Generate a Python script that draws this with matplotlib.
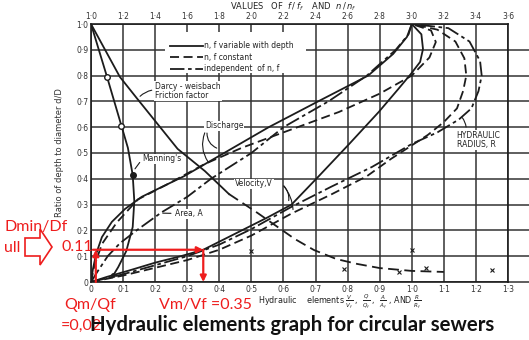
import numpy as np
import matplotlib.pyplot as plt
from matplotlib.patches import Rectangle, Polygon

# bottom scale: hydraulic element ratios, vertical: d/D
q_var_x = [0, 0.006, 0.016, 0.034, 0.065, 0.106, 0.158, 0.22, 0.29, 0.415, 0.554, 0.708, 0.864, 0.942, 0.985, 1.0]
q_var_d = [0, 0.05, 0.109, 0.174, 0.233, 0.283, 0.33, 0.368, 0.41, 0.5, 0.6, 0.7, 0.8, 0.884, 0.95, 1.0]

q_const_x = [0, 0.01, 0.034, 0.08, 0.146, 0.24, 0.354, 0.47, 0.587, 0.773, 0.9, 1.0, 1.055, 1.075, 1.06, 1.0]
q_const_d = [0, 0.06, 0.147, 0.23, 0.32, 0.38, 0.457, 0.52, 0.574, 0.659, 0.73, 0.8, 0.87, 0.93, 0.975, 1.0]

area_x = [0, 0.02, 0.052, 0.09, 0.142, 0.22, 0.3, 0.374, 0.5, 0.6, 0.74, 0.86, 0.95, 0.99, 1.0]
area_d = [0, 0.04, 0.1, 0.15, 0.2, 0.27, 0.33, 0.4, 0.5, 0.6, 0.7, 0.8, 0.9, 0.96, 1.0]

v_var_x = [0, 0.05, 0.12, 0.2, 0.28, 0.35, 0.47, 0.55, 0.625, 0.71, 0.805, 0.897, 0.958, 0.997, 1.026, 1.035, 1.03, 1.0]
v_var_d = [0, 0.02, 0.045, 0.075, 0.1, 0.125, 0.2, 0.25, 0.30, 0.41, 0.535, 0.659, 0.748, 0.806, 0.853, 0.903, 0.96, 1.0]

r_x = [0, 0.1, 0.2, 0.3, 0.4, 0.5, 0.623, 0.75, 0.876, 1.0, 1.08, 1.147, 1.186, 1.208, 1.218, 1.213, 1.18, 1.114, 1.0]
r_d = [0, 0.03, 0.065, 0.1, 0.145, 0.205, 0.29, 0.37, 0.446, 0.535, 0.58, 0.63, 0.673, 0.74, 0.8, 0.856, 0.932, 0.984, 1.0]

v_const_x = [0, 0.1, 0.2, 0.3, 0.4, 0.5, 0.623, 0.75, 0.86, 0.935, 1.05, 1.1, 1.141, 1.16, 1.17, 1.164, 1.136, 1.08, 1.0]
v_const_d = [0, 0.025, 0.055, 0.085, 0.125, 0.18, 0.264, 0.34, 0.41, 0.477, 0.57, 0.62, 0.673, 0.74, 0.8, 0.867, 0.932, 0.978, 1.0]

# top scale: f/f_f and n/n_f
darcy_f = [1.0, 1.18, 1.29, 1.54, 1.71, 1.86]
darcy_d = [1.0, 0.795, 0.709, 0.516, 0.43, 0.341]
darcy_tail_f = [1.86, 2.04, 2.27, 2.39, 2.53, 2.66, 2.8, 3.0, 3.2]
darcy_tail_d = [0.341, 0.267, 0.167, 0.124, 0.089, 0.07, 0.054, 0.043, 0.039]

manning_n = [1.0, 1.10, 1.19, 1.23, 1.26, 1.27, 1.26, 1.22, 1.17, 1.14]
manning_d = [1.0, 0.795, 0.605, 0.52, 0.415, 0.314, 0.213, 0.12, 0.058, 0.027]
manning_open_n = [1.10, 1.19]
manning_open_d = [0.795, 0.605]

test_f = [2.0, 2.58, 2.92, 3.0, 3.09, 3.5]
test_d = [0.12, 0.05, 0.039, 0.124, 0.054, 0.047]

bottom_ticks = [round(0.1 * i, 1) for i in range(14)]
left_ticks = [round(0.1 * i, 1) for i in range(11)]
top_ticks = [round(1.0 + 0.2 * i, 1) for i in range(14)]

# red reading
red_d = 0.125
red_q = 0.015
red_v = 0.35

W, H = 529, 340
fig = plt.figure(figsize=(W / 100, H / 100), dpi=100)
ax = fig.add_axes([91 / W, 58 / H, 417 / W, 258 / H])
ax.set_xlim(0, 1.3)
ax.set_ylim(0, 1.0)
ax.set_axisbelow(True)

ink = '#1c1c1c'
red = '#ee1d1d'


def top2x(v):
    return (np.asarray(v) - 1.0) / 2.0


ax.set_xticks(bottom_ticks)
ax.set_xticklabels(['0'] + [f'{v:.1f}'.replace('.', '·') for v in bottom_ticks[1:]])
ax.set_yticks(left_ticks)
ax.set_yticklabels(['0'] + [f'{v:.1f}'.replace('.', '·') for v in left_ticks[1:]])
ax.tick_params(length=0, labelsize=5.5, pad=2, colors='#333333')
ax.grid(True, color='#333333', lw=1.1)
for s in ax.spines.values():
    s.set_color(ink)
    s.set_linewidth(1.2)
# grid lines run on past the right border
for d in left_ticks[:-1]:
    ax.plot([1.3, 1.37], [d, d], color='#333333', lw=1.1, clip_on=False)

sec = ax.secondary_xaxis('top', functions=(lambda x: 1 + 2 * x, lambda v: (v - 1) / 2))
sec.set_xticks(top_ticks)
sec.set_xticklabels([f'{v:.1f}'.replace('.', '·') for v in top_ticks])
sec.tick_params(length=0, labelsize=5.5, pad=2, colors='#333333')
sec.spines['top'].set_visible(False)

solid = dict(color=ink, lw=1.3)
dashed = dict(color=ink, lw=1.3, dashes=(5, 2.5))
dashdot = dict(color=ink, lw=1.3, dashes=(8, 2, 2, 2))

ax.plot(q_var_x, q_var_d, **solid)
ax.plot(q_const_x, q_const_d, **dashed)
ax.plot(area_x, area_d, **dashdot)
ax.plot(v_var_x, v_var_d, **solid)
ax.plot(v_const_x, v_const_d, **dashed)
ax.plot(r_x, r_d, **dashdot)

ax.plot(top2x(darcy_f), darcy_d, **solid)
ax.plot(top2x(darcy_tail_f), darcy_tail_d, color=ink, lw=1.3, dashes=(6, 3))
ax.plot(top2x(manning_n), manning_d, **solid)
ax.plot(top2x(manning_open_n), manning_open_d, 'o', ms=4, mfc='white', mec=ink, mew=1)
ax.plot(top2x([manning_n[4]]), [manning_d[4]], 'o', ms=4, color=ink)
ax.plot(top2x([manning_n[-1]]), [manning_d[-1]], 'o', ms=2.5, color=ink)
ax.plot(top2x(test_f), test_d, 'x', ms=3, color=ink, mew=0.8)

# legend block
ax.add_patch(Rectangle((0.23, 0.81), 0.44, 0.16, facecolor='white', edgecolor='none', zorder=1.5))
ax.plot([0.246, 0.349], [0.915, 0.915], **solid)
ax.plot([0.246, 0.349], [0.872, 0.872], **dashed)
ax.plot([0.246, 0.349], [0.826, 0.826], **dashdot)
lk = dict(fontsize=5.5, va='center', color='#222222')
ax.text(0.352, 0.915, 'n, f variable with depth', **lk)
ax.text(0.352, 0.872, 'n, f constant', **lk)
ax.text(0.352, 0.826, 'independent  of n, f', **lk)

box = dict(facecolor='white', edgecolor='none', pad=0.6)
tk = dict(fontsize=5.5, color='#222222')
ax.text(0.2, 0.74, 'Darcy - weisbach\nFriction factor', va='center', linespacing=1.0, bbox=box, **tk)
ax.annotate('', xy=(0.147, 0.712), xytext=(0.198, 0.745),
            arrowprops=dict(arrowstyle='-', color=ink, lw=0.8, connectionstyle='arc3,rad=0.2'))
ax.text(0.355, 0.605, 'Discharge', va='center', bbox=box, **tk)
ax.annotate('', xy=(0.40, 0.515), xytext=(0.362, 0.588),
            arrowprops=dict(arrowstyle='-', color=ink, lw=0.8, connectionstyle='arc3,rad=0.4'))
ax.annotate('', xy=(0.37, 0.457), xytext=(0.358, 0.588),
            arrowprops=dict(arrowstyle='-', color=ink, lw=0.8, connectionstyle='arc3,rad=0.3'))
ax.text(0.159, 0.477, "Manning's", va='center', bbox=box, **tk)
ax.annotate('', xy=(0.132, 0.43), xytext=(0.157, 0.472),
            arrowprops=dict(arrowstyle='-', color=ink, lw=0.8))
ax.text(0.262, 0.264, 'Area, A', va='center', bbox=box, **tk)
ax.annotate('', xy=(0.215, 0.267), xytext=(0.258, 0.266),
            arrowprops=dict(arrowstyle='-', color=ink, lw=0.8))
ax.text(0.449, 0.38, 'Velocity,V', va='center', bbox=box, **tk)
ax.annotate('', xy=(0.615, 0.305), xytext=(0.595, 0.38),
            arrowprops=dict(arrowstyle='-', color=ink, lw=0.8, connectionstyle='arc3,rad=-0.3'))
ax.annotate('', xy=(0.63, 0.27), xytext=(0.595, 0.38),
            arrowprops=dict(arrowstyle='-', color=ink, lw=0.8, connectionstyle='arc3,rad=-0.2'))
ax.text(1.14, 0.55, 'HYDRAULIC\nRADIUS, R', va='center', linespacing=1.0, bbox=box, **tk)
ax.annotate('', xy=(1.152, 0.645), xytext=(1.17, 0.59),
            arrowprops=dict(arrowstyle='-', color=ink, lw=0.8, connectionstyle='arc3,rad=0.2'))

# red reading lines
ax.annotate('', xy=(red_v, red_d), xytext=(0.006, red_d),
            arrowprops=dict(arrowstyle='-|>', color=red, lw=1.6, mutation_scale=9, shrinkA=0, shrinkB=0))
ax.annotate('', xy=(red_q, red_d), xytext=(red_q, 0),
            arrowprops=dict(arrowstyle='-|>', color=red, lw=1.6, mutation_scale=9, shrinkA=0, shrinkB=0))
ax.annotate('', xy=(red_v, 0.0), xytext=(red_v, red_d),
            arrowprops=dict(arrowstyle='-|>', color=red, lw=1.6, mutation_scale=9, shrinkA=0, shrinkB=0),
            annotation_clip=False)


def fx(px):
    return px / W


def fy(py):
    return 1 - py / H


fig.text(fx(230), fy(7), r'VALUES   OF  $f\,/\,f_f$    AND  $n\,/\,n_f$', fontsize=6,
         va='center', color='#222222')
ax.set_ylabel('Ratio of depth to diameter d/D', fontsize=6, color='#333333', labelpad=9)
fig.text(fx(340), fy(302), r'Hydraulic    elements $\frac{V}{V_f}$ ,  $\frac{Q}{Q_f}$ ,  '
         r'$\frac{A}{A_f}$ , AND $\frac{R}{R_f}$', fontsize=5.8, ha='center', va='center', color='#222222')

rk = dict(color=red, fontsize=11.5, family='Lato', va='center')
fig.text(fx(4), fy(227), 'Dmin/Df', **rk)
fig.text(fx(4), fy(248), 'ull', **rk)
fig.text(fx(61), fy(247), '0.11', **rk)
fig.text(fx(64), fy(305), 'Qm/Qf', **rk)
fig.text(fx(61), fy(326), '=0,02', **rk)
fig.text(fx(159), fy(305), 'Vm/Vf =0.35', **rk)

arrow_px = [(25, 238), (40, 238), (40, 229), (52, 247), (40, 265), (40, 256), (25, 256)]
fig.add_artist(Polygon([(fx(x), fy(y)) for x, y in arrow_px], closed=True, fill=False,
                       edgecolor=red, lw=1.2, transform=fig.transFigure))

fig.text(fx(292), fy(325), 'Hydraulic elements graph for circular sewers', fontsize=14.7,
         family='Lato', weight='bold', ha='center', va='center', color='#111111')

fig.savefig('out.png', dpi=100)
